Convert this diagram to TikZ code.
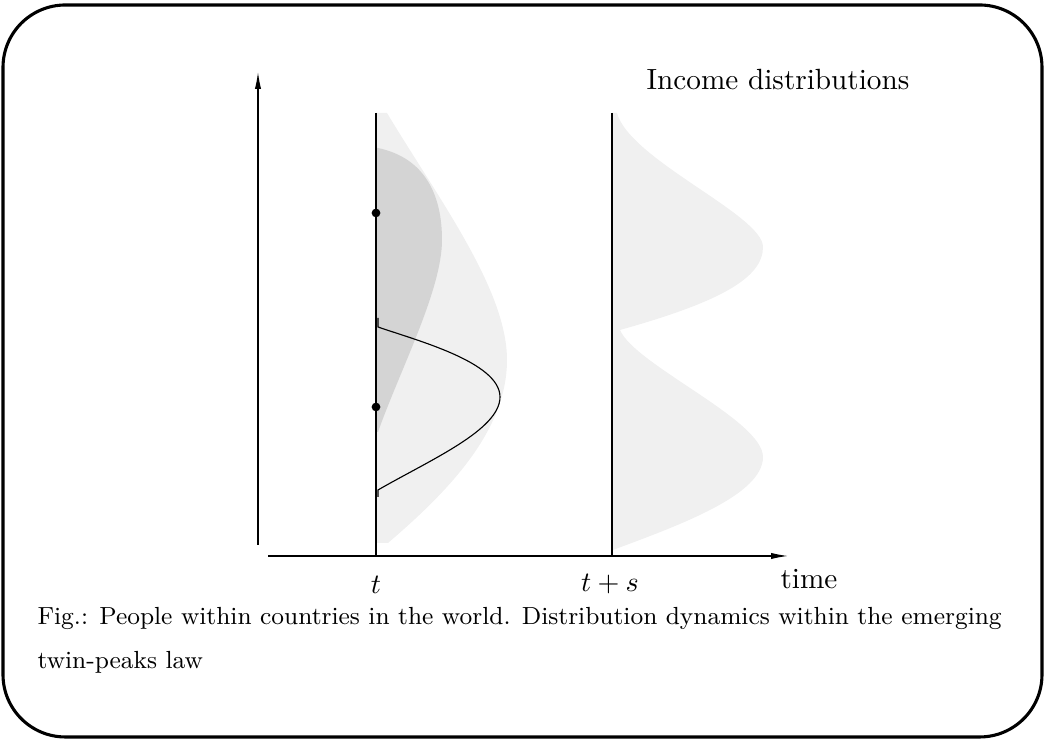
\documentclass[tikz,border=0pt]{standalone}
\usepackage{amsmath}
\usepackage{amssymb}
\usepackage{tikz}
\usepackage{xcolor}
\usetikzlibrary{arrows.meta}

\begin{document}
\begin{tikzpicture}[>={Latex[length=6pt,width=2.2pt]},
    dot/.style={circle,fill=black,inner sep=1.1pt},
    light/.style={fill=black!6,draw=none},
    dark/.style={fill=black!17,draw=none},
    lbl/.style={font=\fontsize{10.4pt}{12pt}\selectfont},
    captxt/.style={anchor=west,inner sep=0pt,font=\fontsize{8.8pt}{10pt}\selectfont}]
    \useasboundingbox (0,0) rectangle (13.0625,9.25);
    \draw[line width=1.1pt,rounded corners=0.78cm] (0.0375,0.0375) rectangle (13.025,9.1875);

    \fill[light] (4.70,7.8375)--(4.8375,7.8375) .. controls (5.50,6.7375) and (6.3375,5.625) .. (6.3375,4.75)
        .. controls (6.3375,3.875) and (5.625,3.125) .. (4.85,2.4625)--(4.70,2.4625)--cycle;
    \fill[dark] (4.70,7.40)--(4.725,7.40) .. controls (5.3125,7.275) and (5.525,6.8125) .. (5.525,6.25)
        .. controls (5.525,5.625) and (5.00,4.625) .. (4.725,3.85)--(4.70,3.85)--cycle;
    \draw (4.725,5.275)--(4.725,5.1625) .. controls (5.1875,5.00) and (6.25,4.725) .. (6.25,4.2875)
        .. controls (6.25,3.875) and (5.375,3.50) .. (4.725,3.125)--(4.725,3.0375);

    \fill[light] (7.65,7.8375)--(7.7125,7.8375) .. controls (7.875,7.25) and (9.5375,6.5625) .. (9.5375,6.1625)
        .. controls (9.5375,5.775) and (9.00,5.475) .. (7.75,5.125)
        .. controls (7.9375,4.6875) and (9.5375,4.0) .. (9.5375,3.5375)
        .. controls (9.5375,3.0625) and (8.50,2.6875) .. (7.6625,2.375)--(7.65,2.375)--cycle;

    \coordinate (ytail) at (3.225,2.4375);
    \coordinate (yhead) at (3.225,8.35);
    \coordinate (xtail) at (3.35,2.30);
    \coordinate (xhead) at (9.85,2.30);
    \draw[->] (ytail)--(yhead);
    \draw[->] (xtail)--(xhead);

    \coordinate (ttop) at (4.70,7.8375);
    \coordinate (tbot) at (4.70,2.30);
    \coordinate (stop) at (7.65,7.8375);
    \coordinate (sbot) at (7.65,2.30);
    \draw[thin] (ttop)--(tbot);
    \draw[thin] (stop)--(sbot);

    \node[dot] (rich) at (4.70,6.5875) {};
    \node[dot] (poor) at (4.70,4.1625) {};

    \node[lbl] (lt) at (4.70,1.945) {$t$};
    \node[lbl] (lts) at (7.625,1.945) {$t+s$};
    \node[lbl,anchor=west,inner sep=0pt] (ltime) at (9.75,2.01) {time};
    \node[lbl] (title) at (9.725,8.25) {Income distributions};
    \node[captxt] (cap1) at (0.4625,1.525) {Fig.: People within countries in the world. Distribution dynamics within the emerging};
    \node[captxt] (cap2) at (0.4625,0.975) {twin-peaks law};
\end{tikzpicture}
\end{document}
